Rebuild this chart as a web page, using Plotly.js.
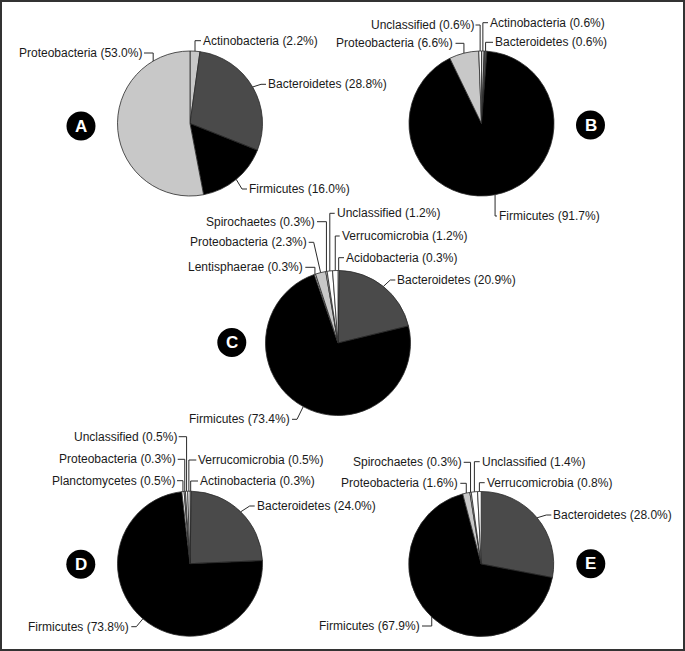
<!DOCTYPE html>
<html><head><meta charset="utf-8">
<script src="https://cdn.plot.ly/plotly-3.0.1.min.js"></script>
<style>html,body{margin:0;padding:0;background:#fff}#chart{width:685px;height:651px}</style>
</head><body><div id="chart"></div>
<script>
// ---------- data ----------
const phylaA = ['Actinobacteria','Bacteroidetes','Firmicutes','Proteobacteria'];
const valuesA = [2.2, 28.8, 16.0, 53.0];
const phylaB = ['Actinobacteria','Bacteroidetes','Firmicutes','Proteobacteria','Unclassified'];
const valuesB = [0.6, 0.6, 91.7, 6.6, 0.6];
const phylaC = ['Acidobacteria','Bacteroidetes','Firmicutes','Lentisphaerae','Proteobacteria','Spirochaetes','Unclassified','Verrucomicrobia'];
const valuesC = [0.3, 20.9, 73.4, 0.3, 2.3, 0.3, 1.2, 1.2];
const phylaD = ['Actinobacteria','Bacteroidetes','Firmicutes','Planctomycetes','Proteobacteria','Unclassified','Verrucomicrobia'];
const valuesD = [0.3, 24.0, 73.8, 0.5, 0.3, 0.5, 0.5];
const phylaE = ['Bacteroidetes','Firmicutes','Proteobacteria','Spirochaetes','Unclassified','Verrucomicrobia'];
const valuesE = [28.0, 67.9, 1.6, 0.3, 1.4, 0.8];
const panelLetters = ['A','B','C','D','E'];

// ---------- styles / layout ----------
const W = 685, H = 651;
const phylumColors = {
  Actinobacteria:'#c8c8c8', Bacteroidetes:'#4a4a4a', Firmicutes:'#000000',
  Proteobacteria:'#c8c8c8', Unclassified:'#ffffff', Verrucomicrobia:'#ffffff',
  Acidobacteria:'#ffffff', Lentisphaerae:'#ffffff', Spirochaetes:'#ffffff', Planctomycetes:'#ffffff'
};
const FONT = 'Liberation Sans, Arial, Helvetica, sans-serif';
const R = 72.5;
// label placement: [text edge x, text centre y, side ('L' = text left of hook, 'R' = text right of hook), position within slice]
const panels = [
  {phyla:phylaA, values:valuesA, cx:190, cy:123.5, badge:[81,126],
   labels:{Actinobacteria:[203,40.7,'R'], Bacteroidetes:[268,84.3,'R'], Firmicutes:[249,189,'R'], Proteobacteria:[142,53,'L',0.84]}},
  {phyla:phylaB, values:valuesB, cx:481.5, cy:123.5, badge:[590.5,125],
   labels:{Unclassified:[473.5,25,'L'], Actinobacteria:[490,22.7,'R'], Proteobacteria:[453.5,43.3,'L'], Bacteroidetes:[495,42.3,'R'], Firmicutes:[499,216,'R']}},
  {phyla:phylaC, values:valuesC, cx:338, cy:343, badge:[231.8,342.5],
   labels:{Spirochaetes:[315,221.7,'L'], Unclassified:[336.7,213.3,'R'], Proteobacteria:[306.7,242.3,'L'], Verrucomicrobia:[341.7,236,'R'],
           Lentisphaerae:[303.3,267.3,'L'], Acidobacteria:[346,257.7,'R'], Bacteroidetes:[397.3,280,'R'], Firmicutes:[290,419.3,'L']}},
  {phyla:phylaD, values:valuesD, cx:190, cy:563.7, badge:[80.8,564.2],
   labels:{Unclassified:[176.7,436.7,'L'], Proteobacteria:[175.7,459.3,'L'], Verrucomicrobia:[198.3,460,'R'], Planctomycetes:[175,480.7,'L'],
           Actinobacteria:[200,481,'R'], Bacteroidetes:[256.7,506,'R'], Firmicutes:[129.3,626.7,'L']}},
  {phyla:phylaE, values:valuesE, cx:481.2, cy:564, badge:[590.8,563.7],
   labels:{Spirochaetes:[461.7,462.3,'L'], Unclassified:[481.7,461.7,'R'], Proteobacteria:[458.3,483.3,'L'], Verrucomicrobia:[486.7,482.7,'R'],
           Bacteroidetes:[553.3,515,'R'], Firmicutes:[420,626,'L']}}
];

const px = x => x / W;
const py = y => 1 - y / H;

const traces = [], shapes = [], annotations = [];

panels.forEach((p, k) => {
  traces.push({
    type:'pie', labels:p.phyla, values:p.values, sort:false, direction:'clockwise', rotation:0,
    textinfo:'none', hoverinfo:'label+value', showlegend:false,
    marker:{colors:p.phyla.map(n => phylumColors[n]), line:{color:'#2a2a2a', width:0.8}},
    domain:{x:[px(p.cx - R), px(p.cx + R)], y:[py(p.cy + R), py(p.cy - R)]}
  });
  const total = p.values.reduce((a,b) => a + b, 0);
  let cum = 0;
  p.phyla.forEach((name, i) => {
    const v = p.values[i];
    const lab = p.labels[name];
    if (lab) {
      const [tx, ty, side, fr] = lab;
      const f = fr === undefined ? 0.5 : fr;
      const ang = (cum + v * f) / total * 2 * Math.PI;
      const ex = p.cx + R * Math.sin(ang), ey = p.cy - R * Math.cos(ang);
      const dir = side === 'L' ? 1 : -1;
      const hs = tx + dir * 2;
      let cxp = tx + dir * 7;
      if (Math.abs(ex - cxp) <= 5) cxp = ex;
      shapes.push({type:'path', xref:'paper', yref:'paper',
        path:`M ${px(hs)},${py(ty)} L ${px(cxp)},${py(ty)} L ${px(ex)},${py(ey)}`,
        line:{color:'#2a2a2a', width:1}});
      annotations.push({xref:'paper', yref:'paper', x:px(tx), y:py(ty), showarrow:false,
        xanchor: side === 'L' ? 'right' : 'left', yanchor:'middle', borderpad:0, borderwidth:0,
        text:`${name} (${v.toFixed(1)}%)`, font:{family:FONT, size:12, color:'#1a1a1a'}});
    }
    cum += v;
  });
  const [bx, by] = p.badge;
  shapes.push({type:'circle', xref:'paper', yref:'paper', x0:px(bx - 14.5), x1:px(bx + 14.5), y0:py(by + 14.5), y1:py(by - 14.5),
    fillcolor:'#000', line:{width:0}});
  annotations.push({xref:'paper', yref:'paper', x:px(bx), y:py(by), showarrow:false, xanchor:'center', yanchor:'middle',
    borderpad:0, borderwidth:0, text:`<b>${panelLetters[k]}</b>`, font:{family:FONT, size:17, color:'#fff'}});
});

// outer frame
shapes.push({type:'rect', xref:'paper', yref:'paper', x0:px(1), x1:px(W - 1), y0:py(H - 1), y1:py(1),
  line:{color:'#333', width:2}, fillcolor:'rgba(0,0,0,0)'});

Plotly.newPlot('chart', traces, {
  width:W, height:H, margin:{l:0, r:0, t:0, b:0, pad:0},
  paper_bgcolor:'#fff', plot_bgcolor:'#fff', showlegend:false,
  shapes, annotations
}, {displayModeBar:false, staticPlot:true});
</script>
</body></html>
